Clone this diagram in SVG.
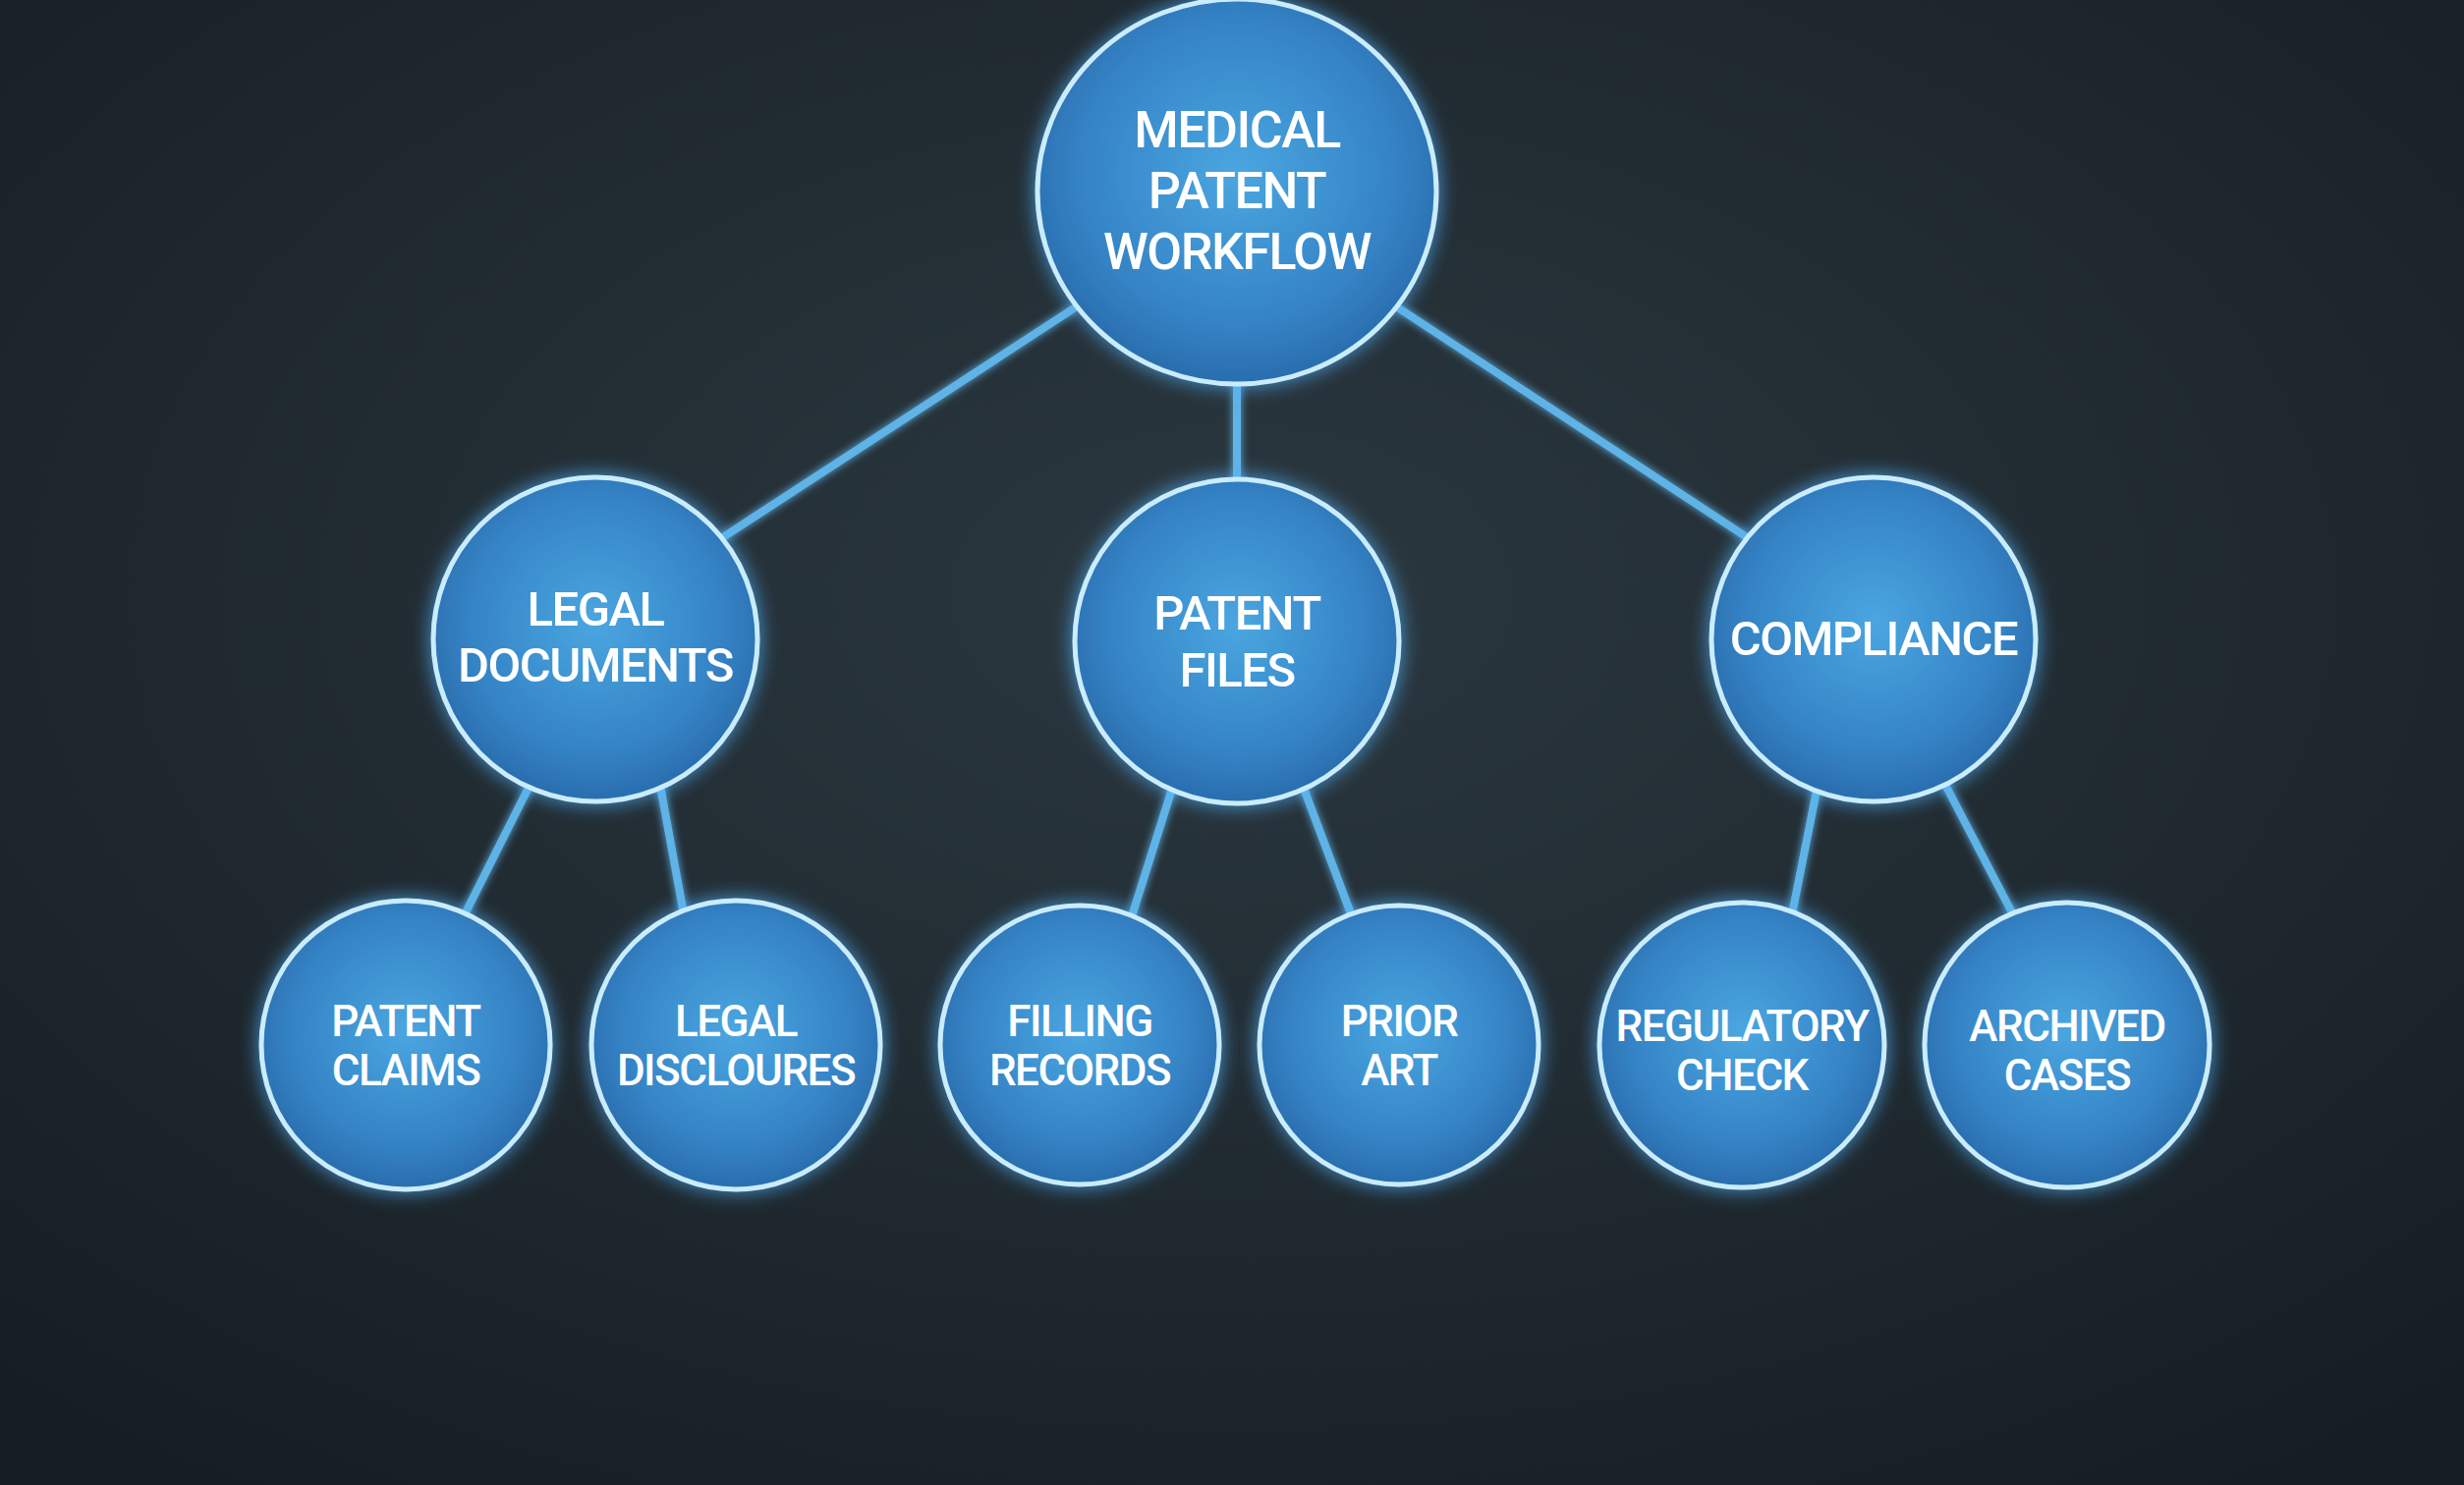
<svg xmlns="http://www.w3.org/2000/svg" width="2508" height="1512" viewBox="0 0 2508 1512">
<defs>
<radialGradient id="bg" cx="50%" cy="40%" r="75%"><stop offset="0" stop-color="#2b3840"/><stop offset="1" stop-color="#161d22"/></radialGradient>
<radialGradient id="node" cx="50%" cy="45%" r="55%"><stop offset="0" stop-color="#4aa6e0"/><stop offset="0.7" stop-color="#3584c6"/><stop offset="1" stop-color="#2a6dae"/></radialGradient>
<filter id="glow" x="-30%" y="-30%" width="160%" height="160%"><feGaussianBlur in="SourceAlpha" stdDeviation="10" result="b"/><feFlood flood-color="#4fb4ff" flood-opacity="0.8"/><feComposite in2="b" operator="in" result="g"/><feMerge><feMergeNode in="g"/><feMergeNode in="SourceGraphic"/></feMerge></filter>
<filter id="lglow" x="-20%" y="-20%" width="140%" height="140%"><feGaussianBlur stdDeviation="4" result="b"/><feMerge><feMergeNode in="b"/><feMergeNode in="SourceGraphic"/></feMerge></filter>
<style>
.n{fill:url(#node);stroke:#c9ecff;stroke-width:5;filter:url(#glow)}
.t{fill:#fff;font-family:Roboto,"Liberation Sans",sans-serif;font-weight:500;text-anchor:middle;letter-spacing:-1.5px}
.l{stroke:#5fb3e6;stroke-width:8;stroke-linecap:round;fill:none}
</style>
</defs>
<rect width="2508" height="1512" fill="url(#bg)"/>
<g id="connectors" filter="url(#lglow)">
<line class="l" x1="1093" y1="314" x2="736" y2="547"/>
<line class="l" x1="1259" y1="392" x2="1259" y2="496"/>
<line class="l" x1="1424" y1="314" x2="1781" y2="549"/>
<line class="l" x1="539" y1="800" x2="472" y2="933"/>
<line class="l" x1="672" y1="800" x2="696" y2="931"/>
<line class="l" x1="1194" y1="800" x2="1152" y2="933"/>
<line class="l" x1="1326" y1="800" x2="1376" y2="933"/>
<line class="l" x1="1850" y1="800" x2="1824" y2="931"/>
<line class="l" x1="1979" y1="797" x2="2050" y2="933"/>
</g>
<g id="root"><ellipse class="n" cx="1259" cy="195" rx="203" ry="196"/>
<text class="t" font-size="52"><tspan x="1259" y="150">MEDICAL</tspan><tspan x="1259" y="212">PATENT</tspan><tspan x="1259" y="274">WORKFLOW</tspan></text></g>
<g id="legal"><circle class="n" cx="606" cy="651" r="165"/>
<text class="t" font-size="49"><tspan x="606" y="637">LEGAL</tspan><tspan x="606" y="694">DOCUMENTS</tspan></text></g>
<g id="files"><circle class="n" cx="1259" cy="653" r="165"/>
<text class="t" font-size="49"><tspan x="1259" y="641">PATENT</tspan><tspan x="1259" y="699">FILES</tspan></text></g>
<g id="compliance"><circle class="n" cx="1907" cy="651" r="165"/>
<text class="t" font-size="49"><tspan x="1907" y="667">COMPLIANCE</tspan></text></g>
<g id="claims"><circle class="n" cx="413" cy="1064" r="147"/>
<text class="t" font-size="44"><tspan x="413" y="1055">PATENT</tspan><tspan x="413" y="1105">CLAIMS</tspan></text></g>
<g id="disclosures"><circle class="n" cx="749" cy="1064" r="147"/>
<text class="t" font-size="44"><tspan x="749" y="1055">LEGAL</tspan><tspan x="749" y="1105">DISCLOURES</tspan></text></g>
<g id="filling"><circle class="n" cx="1099" cy="1064" r="142"/>
<text class="t" font-size="44"><tspan x="1099" y="1055">FILLING</tspan><tspan x="1099" y="1105">RECORDS</tspan></text></g>
<g id="prior"><circle class="n" cx="1424" cy="1064" r="142"/>
<text class="t" font-size="44"><tspan x="1424" y="1055">PRIOR</tspan><tspan x="1424" y="1105">ART</tspan></text></g>
<g id="regulatory"><circle class="n" cx="1773" cy="1064" r="145"/>
<text class="t" font-size="44"><tspan x="1773" y="1060">REGULATORY</tspan><tspan x="1773" y="1110">CHECK</tspan></text></g>
<g id="archived"><circle class="n" cx="2104" cy="1064" r="145"/>
<text class="t" font-size="44"><tspan x="2104" y="1060">ARCHIVED</tspan><tspan x="2104" y="1110">CASES</tspan></text></g>
</svg>
